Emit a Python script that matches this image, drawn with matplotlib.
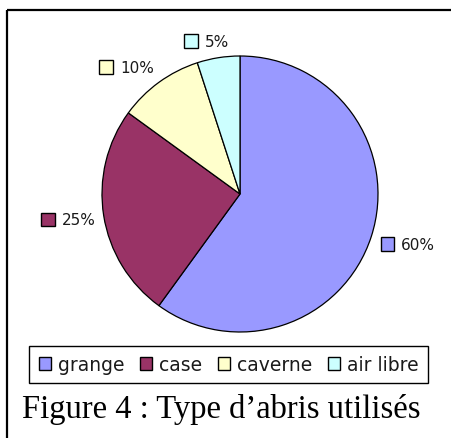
import numpy as np
import matplotlib
matplotlib.use("Agg")
import matplotlib.pyplot as plt
from matplotlib.lines import Line2D
from matplotlib.patches import Rectangle, Patch
from matplotlib.offsetbox import DrawingArea, TextArea, HPacker, AnnotationBbox

categories = ["grange", "case", "caverne", "air libre"]
values = [60, 25, 10, 5]
colors = ["#9999FF", "#993366", "#FFFFCC", "#CCFFFF"]
caption = "Figure 4 : Type d\u2019abris utilisés"

W, H = 451, 439
fig = plt.figure(figsize=(W / 100, H / 100), dpi=100)

cx, cy, R = 240, 195, 138
ax = fig.add_axes([(cx - R) / W, (H - cy - R) / H, 2 * R / W, 2 * R / H])
wedges, _ = ax.pie(values, colors=colors, startangle=90, counterclock=False,
                   radius=1.0, wedgeprops=dict(edgecolor="black", linewidth=0.9))
ax.set_xlim(-1, 1)
ax.set_ylim(-1, 1)
ax.axis("off")

label_font = dict(family="DejaVu Sans", size=11, color="#1a1a1a")
total = sum(values)
for w, v, c in zip(wedges, values, colors):
    mid = np.deg2rad((w.theta1 + w.theta2) / 2)
    ca, sa = np.cos(mid), np.sin(mid)
    k = 1.06
    x, y = k * ca, k * sa
    hx = float(np.clip(0.5 - 1.5 * ca, 0, 1))
    vy = float(np.clip(0.5 - sa, 0, 1))
    da = DrawingArea(12, 12, 0, 0)
    da.add_artist(Rectangle((1, 1), 10, 10, facecolor=c, edgecolor="black", linewidth=1.0))
    ta = TextArea(f"{round(100 * v / total)}%", textprops=label_font)
    pack = HPacker(children=[da, ta], align="center", pad=0, sep=4)
    ab = AnnotationBbox(pack, (x, y), xycoords="data", box_alignment=(hx, vy),
                        frameon=False, pad=0, annotation_clip=False)
    ax.add_artist(ab)

handles = [Patch(facecolor=c, edgecolor="black", linewidth=1.0) for c in colors]
leg = fig.legend(handles, categories, loc="center", ncol=4,
                 bbox_to_anchor=((30 + 427) / 2 / W, 1 - (346 + 385) / 2 / H),
                 prop=dict(family="DejaVu Sans", size=13.5),
                 frameon=True, fancybox=False, edgecolor="black", framealpha=1,
                 handlelength=0.65, handleheight=0.65, handletextpad=0.35,
                 columnspacing=0.85, borderpad=0.5, borderaxespad=0)
leg.get_frame().set_linewidth(1.0)
for t in leg.get_texts():
    t.set_color("#1a1a1a")

fig.text(22 / W, 1 - 418 / H, caption, family="Liberation Serif", size=23.5,
         ha="left", va="baseline", color="black")

fig.add_artist(Line2D([7.5 / W, 7.5 / W], [0, 1 - 10.5 / H], transform=fig.transFigure,
                      color="black", linewidth=1.6, solid_capstyle="butt"))
fig.add_artist(Line2D([6.7 / W, 1], [1 - 10.5 / H, 1 - 10.5 / H], transform=fig.transFigure,
                      color="black", linewidth=1.6, solid_capstyle="butt"))

fig.savefig("out.png", dpi=100)
